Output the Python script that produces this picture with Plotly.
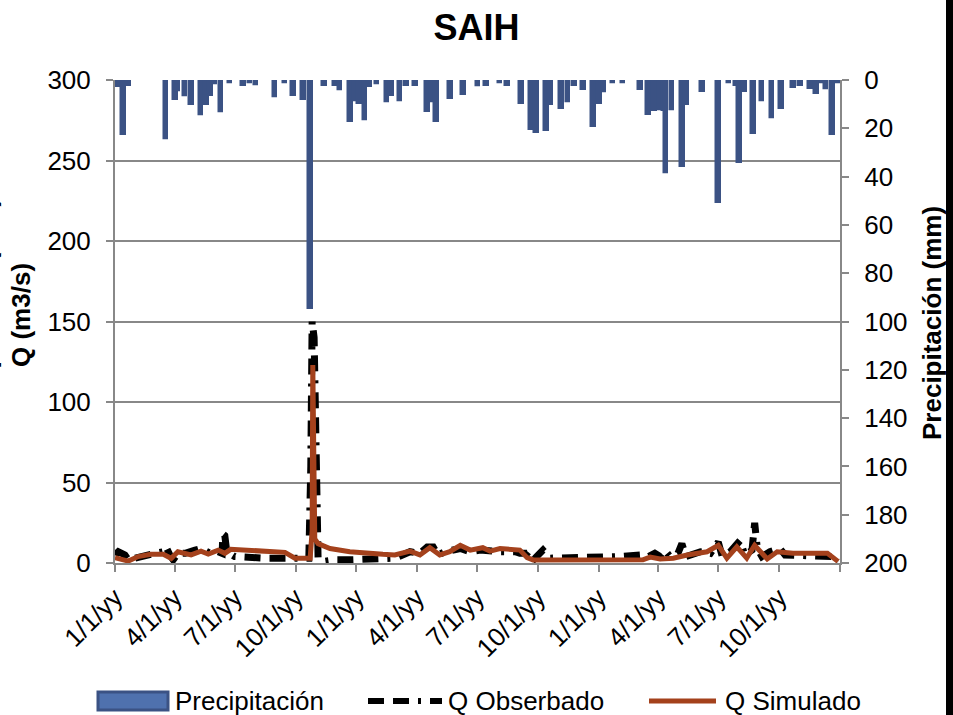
import pandas as pd
import plotly.graph_objects as go

START = pd.Timestamp("2007-01-01")

# Precipitación diaria (mm): día de la serie y lámina registrada
precip_day = [5, 13, 20, 77, 91, 95, 106, 116, 130, 138, 144, 151, 160, 174, 194, 204,
              213, 242, 257, 270, 285, 296, 317, 333, 340, 356, 363, 370, 378, 385,
              396, 411, 418, 431, 441, 454, 472, 479, 486, 507, 527, 549, 562, 582,
              593, 615, 630, 637, 652, 658, 675, 685, 695, 708, 723, 732, 739, 753,
              768, 794, 806, 816, 824, 831, 833, 842, 858, 864, 888, 912, 928, 940,
              944, 952, 965, 978, 993, 1008, 1026, 1036, 1051, 1060, 1069, 1075,
              1085, 1093]
precip_mm = [2, 22, 1.5, 25, 7.6, 5, 7, 9.7, 15, 9.7, 6, 2, 13.5, 1.5, 1.5, 1.5,
             2.5, 7.6, 1.5, 5.8, 7.6, 94, 1.5, 1.5, 4.4, 16.6, 9, 9, 17, 2,
             2, 9.7, 6, 9, 1.5, 1.5, 12.4, 9.7, 16.6, 7, 5.5, 3, 1.5, 1.5,
             1.5, 9, 20, 21, 20.4, 9.7, 11, 9.4, 1.5, 3.5, 18.6, 9, 5.5, 1.5,
             1.5, 3.5, 13.5, 12, 13, 12, 39, 13, 35, 9.7, 4, 50, 1.5, 1.5,
             33.4, 4, 21.4, 9, 16, 11, 2.5, 1.5, 3, 4.8, 1.5, 4,
             22, 1.5]

# Caudal observado (m3/s)
obs_day = [0, 5, 15, 20, 30, 45, 60, 73, 77, 83, 88, 95, 106, 121, 130, 144, 156,
           162, 163, 166, 169, 181, 204, 227, 249, 272, 287, 293, 296, 298, 301,
           304, 307, 317, 333, 355, 378, 401, 423, 446, 461, 472, 481, 488, 499,
           522, 537, 552, 567, 582, 605, 612, 623, 627, 635, 647, 658, 673, 703,
           733, 763, 794, 806, 816, 824, 831, 839, 851, 857, 863, 885, 900, 912,
           918, 930, 945, 952, 963, 967, 971, 978, 990, 1005, 1013, 1036, 1066,
           1088, 1095]
obs_q = [5, 7, 5, 2, 3, 5, 6, 7, 10, 5, 2, 6, 6, 8, 9, 6, 7,
         6, 18, 17, 7, 4, 3, 3, 3, 3, 2, 3, 60, 150, 140,
         30, 3, 1, 2, 2, 2, 3, 3, 7, 6, 10, 10, 5, 7,
         9, 7, 8, 7, 7, 7, 6, 6, 8, 3, 8, 3, 3, 4,
         3, 4, 5, 4, 6, 4, 8, 4, 6, 12, 4, 7, 6, 13,
         4, 7, 14, 5, 8, 25, 9, 4, 7, 9, 5, 5, 5,
         4, 2]

# Caudal simulado (m3/s)
sim_day = [0, 20, 35, 54, 73, 85, 95, 115, 130, 141, 156, 166, 175, 216, 257, 272,
           287, 295, 298, 299, 302, 307, 325, 355, 405, 423, 446, 461, 476, 491,
           506, 522, 537, 556, 567, 582, 612, 623, 632, 673, 733, 798, 809, 824,
           844, 865, 895, 912, 925, 940, 955, 967, 986, 1001, 1025, 1051, 1077,
           1093]
sim_q = [3.3, 1.2, 4, 5.4, 5.4, 2.9, 7, 5, 7.4, 5.5, 8, 6, 8.5, 7.4, 6.6, 3,
         3, 3, 20, 123, 15, 12, 9, 7, 5.4, 5, 7.4, 5, 9.5, 5,
         7, 11, 8, 9.5, 7.4, 9, 8, 3.3, 1.9, 1.9, 1.9, 2, 3.7, 2.5,
         3, 5, 7, 11, 3, 10, 3, 11, 2.5, 7, 6, 6, 6,
         1]

tick_dates = ["2007-01-01", "2007-04-01", "2007-07-01", "2007-10-01",
              "2008-01-01", "2008-04-01", "2008-07-01", "2008-10-01",
              "2009-01-01", "2009-04-01", "2009-07-01", "2009-10-01",
              "2010-01-01"]
tick_text = ["1/1/yy", "4/1/yy", "7/1/yy", "10/1/yy"] * 3 + [""]


def to_dates(days):
    return START + pd.to_timedelta(days, unit="D")


W, H = 953, 715
L, R, T, B = 115, 840, 80, 563
FONT = "Liberation Sans, Arial, sans-serif"
FS = 26
GRID = "#888888"
BLUE_FILL = "#4F71AE"
BLUE_EDGE = "#3B5284"
RUST = "#A4411C"
OBS_DASH = "16px,9px,16px,9px,3px,9px"


def px(x):
    return (x - L) / (R - L)


def py(y):
    return (B - y) / (B - T)


fig = go.Figure()

fig.add_trace(go.Bar(
    x=to_dates(precip_day), y=precip_mm, yaxis="y",
    width=86400000,
    marker=dict(color=BLUE_EDGE, line=dict(color=BLUE_EDGE, width=5.5)),
    name="Precipitación", showlegend=False,
))
fig.add_trace(go.Scatter(
    x=to_dates(obs_day), y=obs_q, yaxis="y2", mode="lines",
    line=dict(color="black", width=7, dash=OBS_DASH),
    name="Q Obserbado", showlegend=False,
))
fig.add_trace(go.Scatter(
    x=to_dates(sim_day), y=sim_q, yaxis="y2", mode="lines",
    line=dict(color=RUST, width=5),
    name="Q Simulado", showlegend=False,
))

axis_common = dict(
    showline=True, linecolor=GRID, linewidth=2, ticks="outside",
    tickcolor=GRID, tickwidth=2, ticklen=7, zeroline=False,
    tickfont=dict(family=FONT, size=FS, color="black"),
)

shapes = [
    # legend swatches
    dict(type="rect", xref="paper", yref="paper",
         x0=px(98), x1=px(168), y0=py(692), y1=py(710),
         fillcolor=BLUE_FILL, line=dict(color=BLUE_EDGE, width=3)),
    dict(type="line", xref="paper", yref="paper",
         x0=px(368), x1=px(442), y0=py(701), y1=py(701),
         line=dict(color="black", width=6, dash=OBS_DASH)),
    dict(type="line", xref="paper", yref="paper",
         x0=px(649), x1=px(716), y0=py(701), y1=py(701),
         line=dict(color=RUST, width=5)),
    # dark frame edge on the right
    dict(type="rect", xref="paper", yref="paper",
         x0=px(946), x1=px(960), y0=py(-5), y1=py(720),
         fillcolor="black", line=dict(width=0), layer="above"),
]

legend_font = dict(family=FONT, size=FS, color="black")
annotations = [
    dict(text="Precipitación", x=px(173), y=py(701), xref="paper", yref="paper",
         xanchor="left", yanchor="middle", showarrow=False, font=legend_font),
    dict(text="Q Obserbado", x=px(446), y=py(701), xref="paper", yref="paper",
         xanchor="left", yanchor="middle", showarrow=False, font=legend_font),
    dict(text="Q Simulado", x=px(723), y=py(701), xref="paper", yref="paper",
         xanchor="left", yanchor="middle", showarrow=False, font=legend_font),
    dict(text="<b>Precipitación (mm)</b><br><b>Q (m3/s)</b>",
         x=px(4), y=py(315), xref="paper", yref="paper", textangle=-90,
         xanchor="center", yanchor="middle", showarrow=False,
         font=dict(family=FONT, size=FS, color="black")),
    dict(text="<b>Precipitación (mm)</b>",
         x=px(932), y=py(323), xref="paper", yref="paper", textangle=-90,
         xanchor="center", yanchor="middle", showarrow=False,
         font=dict(family=FONT, size=FS, color="black")),
]

fig.update_layout(
    width=W, height=H,
    margin=dict(l=L, r=W - R, t=T, b=H - B),
    paper_bgcolor="white", plot_bgcolor="white",
    bargap=0,
    title=dict(text="<b>SAIH</b>", x=0.5, xanchor="center",
               y=1 - 27 / H, yanchor="middle",
               font=dict(family=FONT, size=36, color="black")),
    xaxis=dict(type="date", range=["2007-01-01", "2010-01-01"],
               tickmode="array", tickvals=tick_dates, ticktext=tick_text,
               tickangle=-45, showgrid=False, **axis_common),
    yaxis=dict(side="right", range=[200, 0], dtick=20, showgrid=False,
               ticklabelstandoff=10, **axis_common),
    yaxis2=dict(side="left", overlaying="y", range=[0, 300], dtick=50,
                showgrid=True, gridcolor=GRID, gridwidth=2,
                ticklabelstandoff=10, **axis_common),
    shapes=shapes,
    annotations=annotations,
    showlegend=False,
)

fig.write_html("out.html")
